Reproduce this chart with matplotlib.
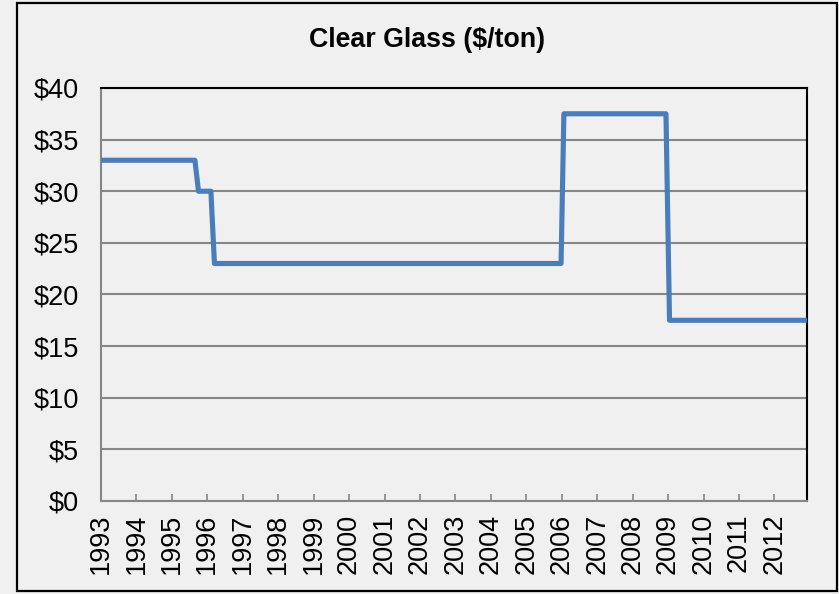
import matplotlib.pyplot as plt
from matplotlib.patches import Rectangle

# step points of the price series (decimal years, $/ton)
step_years = [1993.0, 1995.65, 1995.75, 1996.10, 1996.20, 2005.98, 2006.06, 2008.94, 2009.04, 2012.92]
step_prices = [33, 33, 30, 30, 23, 23, 37.5, 37.5, 17.5, 17.5]

year_ticks = list(range(1993, 2013))
price_ticks = [0, 5, 10, 15, 20, 25, 30, 35, 40]
price_labels = ['$' + str(p) for p in price_ticks]

bg = '#f0f0f0'
plt.rcParams['font.family'] = ['Liberation Sans', 'DejaVu Sans']

fig = plt.figure(figsize=(8.39, 5.94), dpi=100, facecolor=bg)
ax = fig.add_axes([0.1204, 0.1566, 0.8415, 0.6953], facecolor=bg)

# outer chart border
fig.patches.append(Rectangle((0.0203, 0.005), 0.9773, 0.990, transform=fig.transFigure,
                             fill=False, edgecolor='black', linewidth=1.6))

ax.plot(step_years, step_prices, color='#4a7ebb', linewidth=3.7,
        solid_joinstyle='round', solid_capstyle='butt', zorder=3)

ax.set_xlim(1993, 2012.92)
ax.set_ylim(0, 40)
ax.set_xticks(year_ticks)
ax.set_xticklabels([str(y) for y in year_ticks], rotation=90, fontsize=19.5)
ax.set_yticks(price_ticks)
ax.set_yticklabels(price_labels, fontsize=19.5)

ax.grid(axis='y', color='#868686', linewidth=1.5, zorder=1)
ax.tick_params(axis='x', direction='in', length=5, width=1.2, color='#868686', pad=9)
ax.tick_params(axis='y', length=0, pad=16)

ax.spines['left'].set_color('#868686')
ax.spines['bottom'].set_color('#868686')
ax.spines['left'].set_linewidth(1.5)
ax.spines['bottom'].set_linewidth(1.5)
ax.spines['top'].set_color('black')
ax.spines['right'].set_color('black')
ax.spines['top'].set_linewidth(1.5)
ax.spines['right'].set_linewidth(1.5)

fig.text(0.5096, 0.933, 'Clear Glass ($/ton)', ha='center', va='center',
         fontsize=19.3, fontweight='bold')

fig.savefig('out.png', dpi=100, facecolor=bg)
